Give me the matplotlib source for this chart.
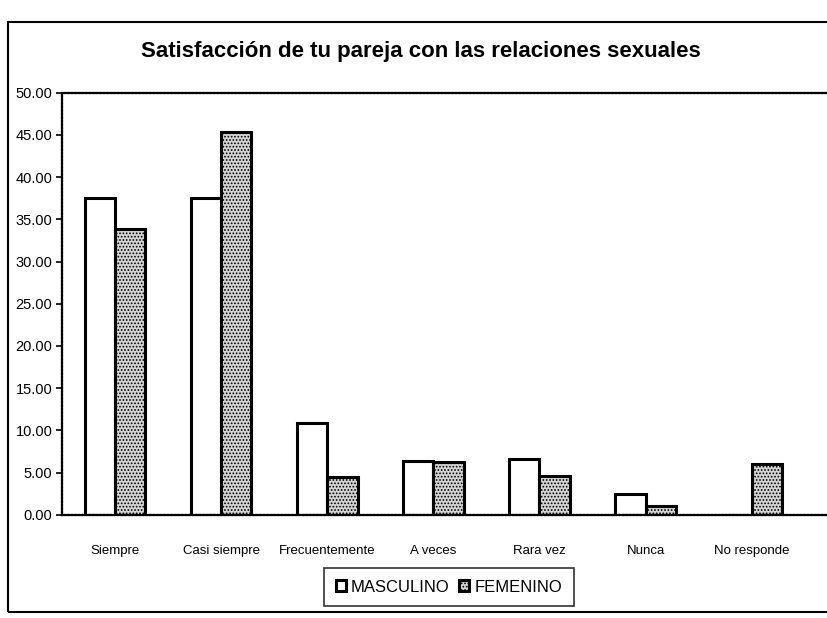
import numpy as np
from matplotlib import pyplot as plt
from matplotlib.patches import Rectangle

categorias = ['Siempre', 'Casi siempre', 'Frecuentemente', 'A veces', 'Rara vez', 'Nunca', 'No responde']
masculino = [37.5, 37.5, 10.9, 6.4, 6.6, 2.5, 0.0]
femenino = [33.9, 45.4, 4.5, 6.2, 4.6, 1.1, 6.0]
ticks_y = [0, 5, 10, 15, 20, 25, 30, 35, 40, 45, 50]

plt.rcParams['font.family'] = ['Liberation Sans', 'DejaVu Sans']
plt.rcParams['hatch.color'] = '#555555'
plt.rcParams['hatch.linewidth'] = 0.8

fig = plt.figure(figsize=(8.28, 6.18), dpi=100)
ax = fig.add_axes([0.075, 0.167, 0.925, 0.683])

x = np.arange(len(categorias))
ancho = 0.285
ax.bar(x - ancho / 2, masculino, ancho, color='white', edgecolor='black', linewidth=2.2,
       label='MASCULINO')
ax.bar(x + ancho / 2, femenino, ancho, color='#d4d4d4', edgecolor='black', linewidth=2.2,
       hatch='.....', label='FEMENINO')

ax.set_xlim(-0.5, 6.72)
ax.set_ylim(0, 50)
ax.set_yticks(ticks_y)
ax.set_yticklabels([f'{v:.2f}' for v in ticks_y], fontsize=10.5)
ax.set_xticks(x)
ax.set_xticklabels(categorias, fontsize=9.5)
ax.tick_params(axis='x', length=0, pad=22)
ax.tick_params(axis='y', length=4, width=1.2, direction='out', pad=3)
ax.spines['right'].set_visible(False)
for s in ['top', 'left', 'bottom']:
    ax.spines[s].set_linewidth(1.6)
    ax.spines[s].set_linestyle((0, (1, 0.6)))

fig.text(0.508, 0.917, 'Satisfacción de tu pareja con las relaciones sexuales',
         ha='center', va='center', fontsize=16, fontweight='bold')

leg = fig.legend(loc='center', bbox_to_anchor=(0.542, 0.050), ncol=2, fontsize=12,
                 frameon=True, fancybox=False, edgecolor='black', handlelength=0.6,
                 handleheight=0.6, handletextpad=0.3, columnspacing=0.6,
                 borderpad=0.7)
leg.get_frame().set_linewidth(1.2)

fig.patches.append(Rectangle((0.010, 0.010), 1.2, 0.955, transform=fig.transFigure,
                             fill=False, edgecolor='black', linewidth=1.5))

fig.savefig('out.png', dpi=100)
